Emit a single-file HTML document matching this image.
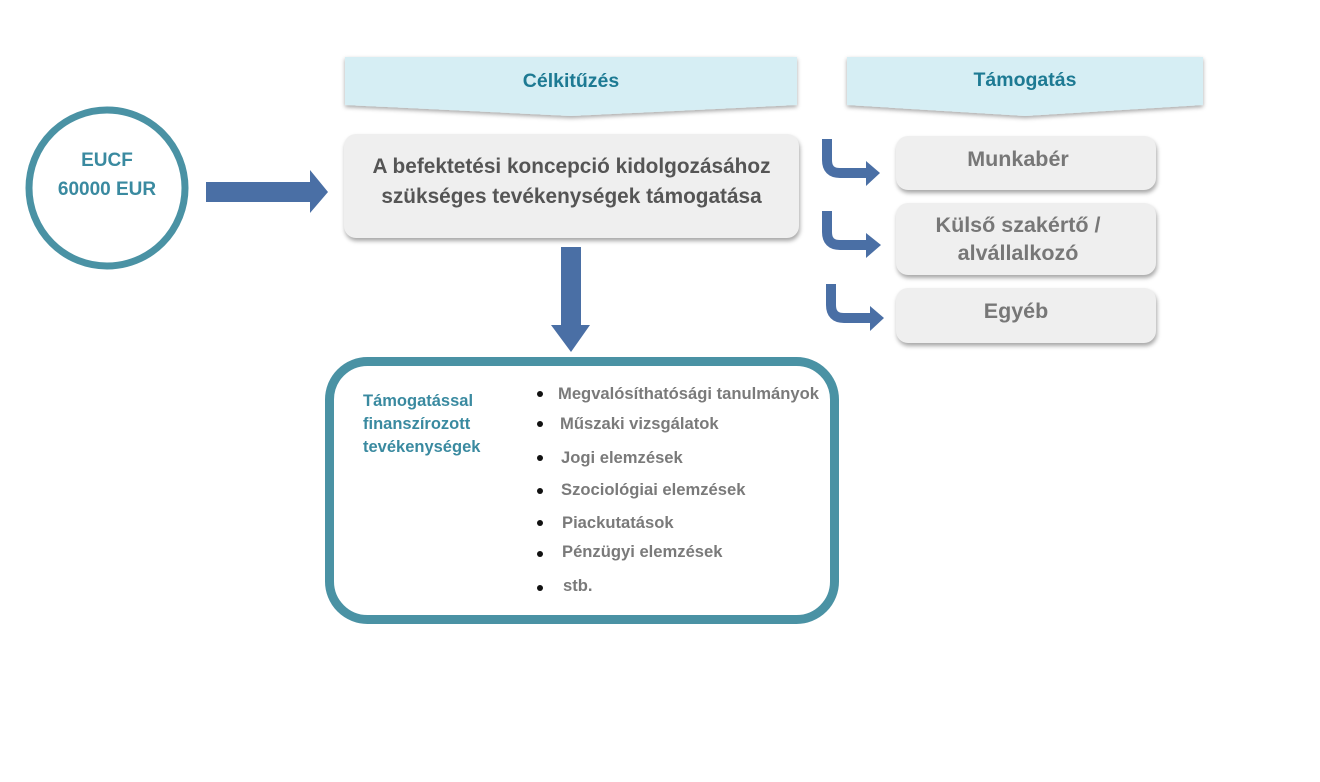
<!DOCTYPE html>
<html><head><meta charset="utf-8"><style>
body{margin:0;width:1320px;height:782px;background:#fff;position:relative;font-family:"Liberation Sans",sans-serif;font-weight:bold;overflow:hidden}
.a{position:absolute}
.box{position:absolute;background:#efefef;border-radius:12px;box-shadow:1px 3px 4px rgba(0,0,0,.35);color:#777;font-size:21.5px;text-align:center;display:flex;align-items:center;justify-content:center;line-height:28px;box-sizing:border-box}
.li{position:absolute;left:558px;font-size:16.6px;color:#7a7a7a}
.dot{position:absolute;left:537px;width:6px;height:6px;border-radius:50%;background:#111}
</style></head><body>
<svg class="a" style="left:0;top:0" width="1320" height="782">
<defs><filter id="s" x="-5%" y="-20%" width="110%" height="150%"><feDropShadow dx="0" dy="2" stdDeviation="2" flood-opacity=".35"/></filter></defs>
<polygon points="345,57 797,57 797,105 571,116 345,105" fill="#d6eef4" filter="url(#s)"/>
<polygon points="847,57 1203,57 1203,105 1025,116 847,105" fill="#d6eef4" filter="url(#s)"/>
<circle cx="107" cy="188" r="78" fill="#fff" stroke="#4a92a4" stroke-width="7"/>
<polygon points="206,182 310,182 310,170 328,192 310,213 310,202 206,202" fill="#4a6fa5"/>
<polygon points="561,247 581,247 581,325 590,325 571,352 551,325 561,325" fill="#4a6fa5"/>
<g fill="none" stroke="#4a6fa5" stroke-width="10">
<path d="M827,139 V160 Q827,173 840,173 H868"/>
<path d="M827,211 V232 Q827,245 840,245 H868"/>
<path d="M831,284 V305 Q831,318 844,318 H872"/>
</g>
<g fill="#4a6fa5">
<polygon points="866,161 880,173 866,186"/>
<polygon points="866,233 881,245 866,258"/>
<polygon points="870,306 884,318 870,331"/>
</g>
<rect x="329.5" y="361.5" width="505" height="258" rx="38" fill="#fff" stroke="#4a92a4" stroke-width="9"/>
</svg>
<div class="a" style="left:345px;top:70px;width:452px;text-align:center;color:#1d7a93;font-size:19.5px">Célkitűzés</div>
<div class="a" style="left:847px;top:69px;width:356px;text-align:center;color:#1d7a93;font-size:19.5px">Támogatás</div>
<div class="a" style="left:29px;top:146px;width:156px;text-align:center;color:#3a8aa0;font-size:19px;line-height:29px">EUCF<br>60000 EUR</div>
<div class="box" style="left:344px;top:134px;width:455px;height:104px;color:#555;font-size:20.8px;line-height:30px;padding-bottom:8px">A befektetési koncepció kidolgozásához<br>szükséges tevékenységek támogatása</div>
<div class="box" style="left:896px;top:136px;width:260px;height:54px;padding-bottom:8px;padding-right:16px">Munkabér</div>
<div class="box" style="left:896px;top:203px;width:260px;height:72px;padding-right:16px">Külső szakértő /<br>alvállalkozó</div>
<div class="box" style="left:896px;top:288px;width:260px;height:55px;padding-bottom:10px;padding-right:20px">Egyéb</div>
<div class="a" style="left:363px;top:390px;color:#3a8aa0;font-size:16.5px;line-height:23px">Támogatással<br>finanszírozott<br>tevékenységek</div>
<div class="dot" style="top:391px"></div><div class="li" style="top:384px">Megvalósíthatósági tanulmányok</div>
<div class="dot" style="top:421px"></div><div class="li" style="top:414px;left:560px">Műszaki vizsgálatok</div>
<div class="dot" style="top:455px"></div><div class="li" style="top:448px;left:561px">Jogi elemzések</div>
<div class="dot" style="top:488px"></div><div class="li" style="top:480px;left:561px">Szociológiai elemzések</div>
<div class="dot" style="top:520px"></div><div class="li" style="top:513px;left:562px">Piackutatások</div>
<div class="dot" style="top:551px"></div><div class="li" style="top:542px;left:562px">Pénzügyi elemzések</div>
<div class="dot" style="top:585px"></div><div class="li" style="top:576px;left:563px">stb.</div>
</body></html>
